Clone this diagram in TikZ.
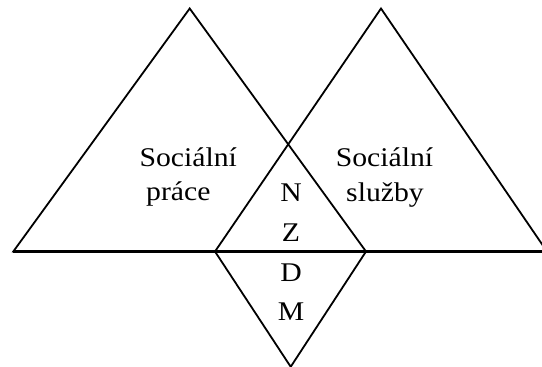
\documentclass[tikz,border=0pt]{standalone}
\usepackage{fontspec}
\setmainfont[FakeStretch=1.1]{Liberation Serif}
\begin{document}
\begin{tikzpicture}[x=1pt,y=-1pt,
  edge/.style={draw=black,line width=1.8pt,line join=miter},
  base/.style={draw=black,line width=2.2pt},
  lbl/.style={anchor=base,inner sep=0pt,font=\fontsize{27}{30}\selectfont},
  letter/.style={anchor=base,inner sep=0pt,font=\fontsize{27}{30}\selectfont}]
\useasboundingbox (0,0) rectangle (542,367);
\begin{scope}
\clip (0,0) rectangle (542,367);
\coordinate (LA) at (189.7,8.5);
\coordinate (LL) at (13.3,251.5);
\coordinate (LR) at (366,251.5);
\coordinate (RA) at (381,8.5);
\coordinate (RL) at (215,251.5);
\coordinate (RR) at (547,251.5);
\coordinate (B) at (290.7,366.8);
\draw[edge] (LA) -- (LL) -- (LR) -- cycle;
\draw[edge] (RA) -- (RL) -- (RR) -- cycle;
\draw[edge] (RL) -- (B) -- (LR);
\draw[base] (LL) -- (RR);
\end{scope}
\node[lbl] (sp1) at (188.3,166.7) {Sociální};
\node[lbl] (sp2) at (178.3,200.3) {práce};
\node[lbl] (ss1) at (384.5,166.7) {Sociální};
\node[lbl] (ss2) at (385,201) {služby};
\node[letter] (n) at (291,201.7) {N};
\node[letter] (z) at (291,241.7) {Z};
\node[letter] (d) at (291,281) {D};
\node[letter] (m) at (291,320.7) {M};
\end{tikzpicture}
\end{document}
